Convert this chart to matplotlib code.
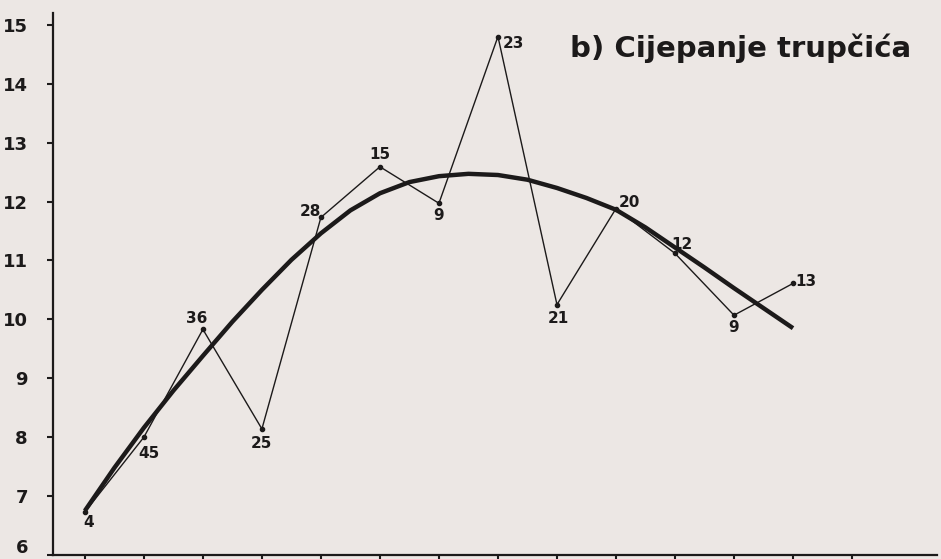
import numpy as np
import matplotlib
matplotlib.use('Agg')
import matplotlib.pyplot as plt
import matplotlib.transforms as mtransforms

plt.rcParams['font.family'] = ['DejaVu Sans']
plt.rcParams['font.weight'] = 'bold'

# measured points (x = sample order), labels written next to each point
order = [1, 2, 3, 4, 5, 6, 7, 8, 9, 10, 11, 12, 13]
values = [6.73, 8.0, 9.83, 8.14, 11.73, 12.59, 11.97, 14.8, 10.25, 11.88, 11.12, 10.07, 10.61]
point_labels = ['4', '45', '36', '25', '28', '15', '9', '23', '21', '20', '12', '9', '13']

# thick trend curve at half steps
curve_x = [1, 1.5, 2, 2.5, 3, 3.5, 4, 4.5, 5, 5.5, 6, 6.5, 7,
           7.5, 8, 8.5, 9, 9.5, 10, 10.5, 11, 11.5, 12, 12.5, 13]
curve_y = [6.75, 7.48, 8.16, 8.79, 9.38, 9.96, 10.5, 11.01, 11.46, 11.85, 12.14, 12.33, 12.43,
           12.47, 12.45, 12.37, 12.23, 12.06, 11.86, 11.56, 11.22, 10.88, 10.53, 10.19, 9.85]

yticks = [6, 7, 8, 9, 10, 11, 12, 13, 14, 15]
xticks = list(range(1, 15))

# label offsets in pixels (dx, dy), screen-down positive
offsets = [(4, 11), (5, 16), (-6, -11), (0, 15), (-10, -6), (0, -12),
           (0, 12), (15, 7), (1, 14), (13, -6), (7, -9), (0, 12), (13, -2)]

bg = '#ece7e4'
ink = '#1c1a1a'

fig = plt.figure(figsize=(9.41, 5.59), dpi=100, facecolor=bg)
ax = fig.add_axes([53 / 941, 4 / 559, 884 / 941, 542 / 559], facecolor=bg)

ax.plot(curve_x, curve_y, '-', color=ink, lw=3.2, solid_capstyle='butt',
        solid_joinstyle='round', zorder=2)
ax.plot(order, values, '-', color=ink, lw=1.0, zorder=3)
ax.plot(order, values, 'o', color=ink, ms=3, zorder=4)

for x, y, lab, (dx, dy) in zip(order, values, point_labels, offsets):
    ax.annotate(lab, (x, y), xytext=(dx * 0.72, -dy * 0.72), textcoords='offset points',
                ha='center', va='center', fontsize=11, fontweight='bold', color=ink)

ax.text(0.778, 0.935, 'b) Cijepanje trupčića', transform=ax.transAxes,
        ha='center', va='center', fontsize=21, fontweight='bold', color=ink)

ax.set_xlim(0.46, 15.44)
ax.set_ylim(6, 15.2)
ax.set_yticks(yticks)
ax.set_xticks(xticks)
ax.set_yticklabels([str(v) for v in yticks])
ax.tick_params(axis='y', direction='out', length=4, width=1.5, pad=14,
               labelsize=13, colors=ink)
ax.tick_params(axis='x', direction='out', length=6, width=1.5, labelbottom=False,
               colors=ink)
for lab in ax.get_yticklabels():
    lab.set_fontweight('bold')
# bottom label sits a little above its tick, as in the scan
low = ax.get_yticklabels()[0]
low.set_transform(low.get_transform() + mtransforms.ScaledTranslation(0, 9 / 100, fig.dpi_scale_trans))

for side in ['top', 'right']:
    ax.spines[side].set_visible(False)
for side in ['left', 'bottom']:
    ax.spines[side].set_linewidth(1.6)
    ax.spines[side].set_color(ink)

plt.savefig('out.png', dpi=100, facecolor=bg)
